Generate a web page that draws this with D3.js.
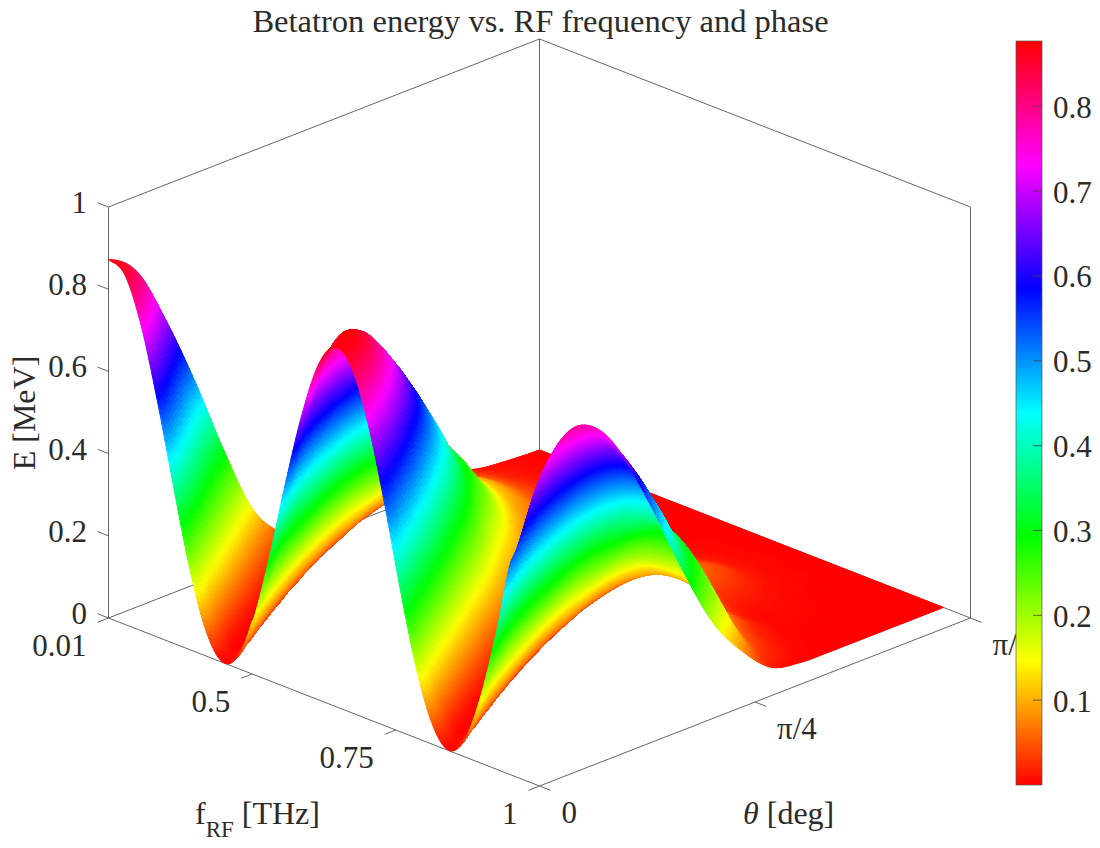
<!DOCTYPE html>
<html>
<head>
<meta charset="utf-8">
<script src="https://cdn.jsdelivr.net/npm/d3@7"></script>
<style>
    html, body { margin: 0; background: #fff; }
    text { font-family: "Liberation Serif", serif; fill: #2b2b2b; }
</style>
</head>
<body>
<div class="container"></div>
<script>
// values
const fRF = [0.01, 0.065, 0.12, 0.175, 0.231, 0.286, 0.341, 0.396, 0.451, 0.503, 0.531, 0.559, 0.588,
    0.616, 0.644, 0.672, 0.7, 0.728, 0.756, 0.784, 0.813, 0.841, 0.869, 0.897, 0.925, 0.953];

const thetaDeg = [0, 6, 12, 18, 24, 30, 36, 42, 48, 54, 60, 66, 72, 78, 84, 90];

// one row per theta, one column per fRF
const energy = [
    [.872,.851,.746,.580,.385,.200,.064,.002,.028,.137,.307,.503,.686,.818,.874,.842,.728,.556,.359,.178,.050,.001,.039,.158,.333,.530],
    [.815,.720,.565,.386,.201,.065,.002,.027,.134,.305,.499,.682,.814,.870,.840,.727,.555,.358,.179,.051,.001,.038,.154,.329,.526,.704],
    [.670,.520,.355,.194,.064,.002,.025,.126,.286,.472,.647,.774,.828,.801,.694,.531,.345,.172,.050,.001,.035,.145,.311,.498,.667,.786],
    [.495,.330,.178,.061,.003,.021,.112,.255,.426,.585,.705,.758,.736,.640,.492,.323,.163,.049,.001,.029,.128,.278,.448,.605,.717,.760],
    [.300,.160,.056,.004,.017,.095,.223,.375,.520,.628,.678,.660,.578,.447,.295,.151,.047,.001,.023,.109,.237,.394,.537,.638,.679,.653],
    [.130,.050,.005,.012,.074,.182,.313,.440,.537,.587,.576,.509,.399,.268,.142,.047,.002,.016,.087,.198,.330,.454,.547,.589,.571,.497],
    [.045,.006,.007,.055,.142,.249,.357,.440,.485,.482,.430,.342,.233,.127,.046,.003,.011,.065,.155,.265,.369,.448,.488,.478,.420,.327],
    [.007,.003,.036,.101,.183,.266,.334,.374,.376,.339,.274,.191,.108,.041,.004,.005,.044,.111,.195,.277,.342,.376,.373,.333,.264,.179],
    [.001,.024,.072,.137,.203,.259,.293,.299,.273,.224,.159,.092,.038,.006,.002,.029,.080,.146,.210,.264,.296,.297,.267,.216,.150,.084],
    [.013,.045,.088,.137,.176,.203,.210,.195,.163,.118,.070,.031,.006,.001,.017,.050,.095,.142,.160,.170,.160,.130,.100,.070,.043,.018],
    [.026,.055,.086,.114,.133,.140,.132,.112,.083,.052,.024,.006,.000,.008,.029,.059,.080,.090,.090,.080,.060,.050,.030,.020,.010,.002],
    [.034,.055,.075,.089,.095,.091,.079,.060,.038,.019,.005,.000,.004,.017,.037,.058,.070,.055,.035,.020,.010,.008,.005,.003,.001,.000],
    [.028,.038,.046,.050,.049,.043,.033,.022,.011,.004,.000,.002,.008,.017,.028,.040,.045,.035,.020,.011,.006,.004,.002,.001,.000,.000],
    [.011,.015,.018,.020,.019,.017,.013,.009,.005,.002,.000,.001,.003,.007,.010,.012,.012,.010,.007,.004,.002,.001,.001,.000,.000,.000],
    [.004,.005,.005,.006,.005,.004,.003,.002,.001,.000,.000,.000,.001,.002,.002,.003,.003,.002,.002,.001,.001,.000,.000,.000,.000,.000],
    [.000,.000,.000,.000,.000,.000,.000,.000,.000,.000,.000,.000,.000,.000,.000,.000,.000,.000,.000,.000,.000,.000,.000,.000,.000,.000]
];

const zTicks = [0, 0.2, 0.4, 0.6, 0.8, 1],
    zTickLabels = ["0", "0.2", "0.4", "0.6", "0.8", "1"],
    fTicks = [0.01, 0.5, 0.75, 1],
    fTickLabels = ["0.01", "0.5", "0.75", "1"],
    thetaTicks = [0, 45, 90],
    thetaTickLabels = ["0", "π/4", "π/2"],
    barTicks = [0.1, 0.2, 0.3, 0.4, 0.5, 0.6, 0.7, 0.8],
    barDomain = [0, 0.877],
    hsvColors = ["#ff0000", "#ffff00", "#00ff00", "#00ffff", "#0000ff", "#ff00ff", "#ff0000"];

const width = 1100, height = 848, fontSize = 31, labelSize = 32;

const svg = d3.select('.container')
    .append('svg')
    .attr('width', width)
    .attr('height', height)
    .style('display', 'block');

// the f axis has evenly spaced ticks, so its scale is piecewise
const fScale = d3.scaleLinear().domain(fTicks).range([0, 1/3, 2/3, 1]),
    thetaScale = d3.scaleLinear().domain([0, 90]).range([0, 1]),
    zScale = d3.scaleLinear().domain([0, 1]).range([0, 411]);

const colorScale = d3.scaleLinear()
    .domain(hsvColors.map((c, i) => barDomain[0] + (barDomain[1] - barDomain[0]) * i / 6))
    .range(hsvColors)
    .clamp(true);

const project = (f, theta, z) => {
    const p = fScale(f), q = thetaScale(theta);
    return [108.5 + 431 * (p + q), 618 + 168 * (p - q) - zScale(z)];
};

const fMin = fTicks[0], fMax = fTicks[3], zMax = zTicks[5];

// box edges
const boxEdges = [
    [[fMin, 0, 0], [fMin, 0, zMax]],
    [[fMin, 90, 0], [fMin, 90, zMax]],
    [[fMax, 90, 0], [fMax, 90, zMax]],
    [[fMin, 0, zMax], [fMin, 90, zMax]],
    [[fMin, 90, zMax], [fMax, 90, zMax]],
    [[fMin, 0, 0], [fMin, 90, 0]],
    [[fMin, 90, 0], [fMax, 90, 0]],
    [[fMin, 0, 0], [fMax, 0, 0]],
    [[fMax, 0, 0], [fMax, 90, 0]]
];

const line = d3.line();

svg.append('g')
    .selectAll('path')
    .data(boxEdges)
    .join('path')
    .attr('d', d => line(d.map(c => project(c[0], c[1], c[2]))))
    .attr('fill', 'none')
    .attr('stroke', '#555')
    .attr('stroke-width', 0.9);

// ticks, drawn along the floor directions
const tickLines = [];
zTicks.forEach(z => {
    const b = project(fMin, 0, z);
    tickLines.push([b, [b[0] - 11, b[1] - 4.3]]);
});
fTicks.forEach(f => {
    const b = project(f, 0, 0);
    tickLines.push([b, [b[0] - 11, b[1] + 4.3]]);
});
thetaTicks.forEach(t => {
    const b = project(fMax, t, 0);
    tickLines.push([b, [b[0] + 11, b[1] + 4.3]]);
});

svg.append('g')
    .selectAll('path')
    .data(tickLines)
    .join('path')
    .attr('d', d => line(d))
    .attr('stroke', '#555')
    .attr('stroke-width', 0.9);

// tick labels
const labels = svg.append('g').attr('font-size', fontSize);

labels.selectAll('.zlab')
    .data(zTicks)
    .join('text')
    .attr('class', 'zlab')
    .attr('x', 87)
    .attr('y', z => project(fMin, 0, z)[1] + 6)
    .attr('text-anchor', 'end')
    .text((z, i) => zTickLabels[i]);

labels.selectAll('.flab')
    .data(fTicks)
    .join('text')
    .attr('class', 'flab')
    .attr('x', f => project(f, 0, 0)[0] - 22)
    .attr('y', f => project(f, 0, 0)[1] + 38)
    .attr('text-anchor', 'end')
    .text((f, i) => fTickLabels[i]);

labels.selectAll('.tlab')
    .data(thetaTicks)
    .join('text')
    .attr('class', 'tlab')
    .attr('x', t => project(fMax, t, 0)[0] + 22)
    .attr('y', t => project(fMax, t, 0)[1] + 37)
    .text((t, i) => thetaTickLabels[i]);

// resample the read grid for drawing, so the shading is smooth
const catmull = (a, u) => {
    const i = Math.min(Math.floor(u), a.length - 2), t = u - i,
        p0 = a[Math.max(i - 1, 0)], p1 = a[i], p2 = a[i + 1], p3 = a[Math.min(i + 2, a.length - 1)];
    return 0.5 * (2 * p1 + (p2 - p0) * t + (2 * p0 - 5 * p1 + 4 * p2 - p3) * t * t + (3 * p1 - p0 - 3 * p2 + p3) * t * t * t);
};

const stepsF = 10, stepsT = 10;
const fineF = d3.range((fRF.length - 1) * stepsF + 1).map(i => i / stepsF),
    fineT = d3.range((thetaDeg.length - 1) * stepsT + 1).map(i => i / stepsT);

const alongF = energy.map(row => fineF.map(u => catmull(row, u)));
const fineZ = fineT.map(v => fineF.map((u, j) => Math.max(0, catmull(alongF.map(r => r[j]), v))));

const fAt = u => {
    const i = Math.min(Math.floor(u), fRF.length - 2);
    return fRF[i] + (fRF[i + 1] - fRF[i]) * (u - i);
};
const tAt = v => {
    const i = Math.min(Math.floor(v), thetaDeg.length - 2);
    return thetaDeg[i] + (thetaDeg[i + 1] - thetaDeg[i]) * (v - i);
};

const fineGrid = fineT.map((v, r) => fineF.map((u, c) => project(fAt(u), tAt(v), fineZ[r][c])));

const cells = [];
for (let r = 0; r < fineT.length - 1; r++) {
    for (let c = 0; c < fineF.length - 1; c++) {
        cells.push({
            depth: fScale(fAt(fineF[c])) - thetaScale(tAt(fineT[r])),
            z: (fineZ[r][c] + fineZ[r][c + 1] + fineZ[r + 1][c] + fineZ[r + 1][c + 1]) / 4,
            pts: [fineGrid[r][c], fineGrid[r][c + 1], fineGrid[r + 1][c + 1], fineGrid[r + 1][c]]
        });
    }
}
cells.sort((a, b) => a.depth - b.depth);

svg.append('g')
    .selectAll('path')
    .data(cells)
    .join('path')
    .attr('d', d => line(d.pts) + 'Z')
    .attr('fill', d => colorScale(d.z))
    .attr('stroke', d => colorScale(d.z))
    .attr('stroke-width', 1);

// title and axis labels
svg.append('text')
    .attr('x', 540.5)
    .attr('y', 32)
    .attr('text-anchor', 'middle')
    .attr('font-size', 32.5)
    .text('Betatron energy vs. RF frequency and phase');

const fLabel = svg.append('text')
    .attr('x', 195)
    .attr('y', 824)
    .attr('font-size', labelSize);
fLabel.append('tspan').text('f');
fLabel.append('tspan').attr('dy', 13).attr('font-size', 23).text('RF');
fLabel.append('tspan').attr('dy', -13).text(' [THz]');

const thetaLabel = svg.append('text')
    .attr('x', 743)
    .attr('y', 824)
    .attr('font-size', labelSize);
thetaLabel.append('tspan').attr('font-style', 'italic').text('θ');
thetaLabel.append('tspan').text(' [deg]');

svg.append('text')
    .attr('transform', 'translate(35,413) rotate(-90)')
    .attr('text-anchor', 'middle')
    .attr('font-size', labelSize)
    .text('E [MeV]');

// colorbar
const barScale = d3.scaleLinear().domain(barDomain).range([785, 41]);
const barX = 1016, barW = 26;

const gradient = svg.append('defs')
    .append('linearGradient')
    .attr('id', 'hsvbar')
    .attr('x1', 0).attr('x2', 0).attr('y1', 1).attr('y2', 0);

gradient.selectAll('stop')
    .data(hsvColors)
    .join('stop')
    .attr('offset', (c, i) => i / 6)
    .attr('stop-color', c => c);

svg.append('rect')
    .attr('x', barX)
    .attr('y', barScale(barDomain[1]))
    .attr('width', barW)
    .attr('height', barScale(barDomain[0]) - barScale(barDomain[1]))
    .attr('fill', 'url(#hsvbar)')
    .attr('stroke', '#555')
    .attr('stroke-width', 0.7);

svg.append('g')
    .selectAll('path')
    .data(barTicks)
    .join('path')
    .attr('d', v => line([[barX + barW - 9, barScale(v)], [barX + barW, barScale(v)]]))
    .attr('stroke', '#444')
    .attr('stroke-width', 0.8);

svg.append('g')
    .attr('font-size', fontSize)
    .selectAll('text')
    .data(barTicks)
    .join('text')
    .attr('x', 1053)
    .attr('y', v => barScale(v) + 11.5)
    .text(v => d3.format('.1f')(v));
</script>
</body>
</html>
